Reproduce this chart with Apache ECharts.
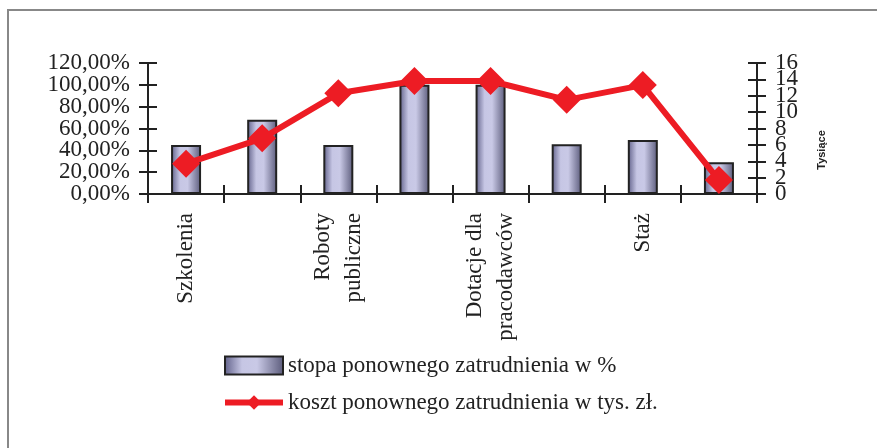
<!DOCTYPE html>
<html>
<head>
<meta charset="utf-8">
<script src="https://cdn.jsdelivr.net/npm/echarts@6/dist/echarts.min.js"></script>
<style>
  html, body { margin: 0; padding: 0; background: #fff; }
  #chart { width: 877px; height: 448px; }
</style>
</head>
<body>
<div id="chart"></div>
<script>
// labels shown under the axis (every other category is unlabelled in the source)
const categories = ["Szkolenia", "", "Roboty\npubliczne", "", "Dotacje dla\npracodawców", "", "Staż", ""];
const stopa = [45, 68, 45, 100, 100, 45.5, 49.5, 29];          // %
const koszt = [3.7, 6.8, 12.3, 13.8, 13.8, 11.5, 13.3, 1.7];    // tys. zł
const seriesNames = ["stopa ponownego zatrudnienia w %", "koszt ponownego zatrudnienia w tys. zł."];

const serif = "'Liberation Serif', 'DejaVu Serif', serif";
const ink = "#222";
const red = "#ed1c24";

const barFill = new echarts.graphic.LinearGradient(0, 0, 1, 0, [
  { offset: 0, color: "#5f5f88" },
  { offset: 0.3, color: "#c6c6e4" },
  { offset: 0.55, color: "#c9c9e6" },
  { offset: 1, color: "#5a5a7a" }
]);

// tick labels overlap in the source; ECharts would drop some, so even and odd
// labels are put on two twin axes (one with outside ticks, one with inside ticks)
function yAxisPair(position, max, interval, fmt) {
  const lbl = (keepEven) => ({
    margin: 18, color: ink, fontFamily: serif, fontSize: 23,
    showMinLabel: true, showMaxLabel: true,
    formatter: v => ((Math.round(v / interval) % 2 === 0) === keepEven ? fmt(v) : "")
  });
  return [
    {
      type: "value", position: position, min: 0, max: max, interval: interval,
      axisLine: { show: true, lineStyle: { color: ink, width: 2 } },
      axisTick: { show: true, length: 9, lineStyle: { color: ink, width: 2 } },
      axisLabel: lbl(true),
      splitLine: { show: false }
    },
    {
      type: "value", position: position, min: 0, max: max, interval: interval,
      axisLine: { show: false },
      axisTick: { show: true, inside: true, length: 9, lineStyle: { color: ink, width: 2 } },
      axisLabel: Object.assign(lbl(false), { inside: false }),
      splitLine: { show: false }
    }
  ];
}

let option = {
  animation: false,
  backgroundColor: "#fff",
  grid: { left: 148, right: 120, top: 63, bottom: 254, containLabel: false },
  xAxis: [
    {
      type: "category", data: categories, position: "bottom",
      axisLine: { show: true, lineStyle: { color: ink, width: 2 } },
      axisTick: { show: true, length: 9, interval: 0, lineStyle: { color: ink, width: 2 } },
      axisLabel: {
        interval: 0, rotate: 90, margin: 19, color: ink,
        fontFamily: serif, fontSize: 23, lineHeight: 31
      }
    },
    {
      type: "category", data: categories, position: "bottom",
      axisLine: { show: false },
      axisTick: { show: true, inside: true, length: 9, interval: 0, lineStyle: { color: ink, width: 2 } },
      axisLabel: { show: false }
    }
  ],
  yAxis: [].concat(
    yAxisPair("left", 120, 20, v => v + ",00%"),
    yAxisPair("right", 16, 2, v => String(v))
  ),
  legend: {
    orient: "vertical", left: 222, top: 354, padding: 0,
    itemWidth: 58, itemHeight: 18, itemGap: 14,
    textStyle: { color: ink, fontFamily: serif, fontSize: 23 },
    data: [
      { name: seriesNames[0], icon: "rect", itemStyle: { color: barFill, borderColor: ink, borderWidth: 2 } },
      { name: seriesNames[1], lineStyle: { color: red, width: 6 } }
    ]
  },
  graphic: [
    {
      type: "polyline", silent: true,
      shape: { points: [[8, 448], [8, 10], [877, 10]] },
      style: { stroke: "#888", lineWidth: 2, fill: null }
    },
    {
      type: "text", x: 822, y: 150, rotation: Math.PI / 2,
      style: {
        text: "Tysiące", fill: ink, align: "center", verticalAlign: "middle",
        font: "bold 11px 'Liberation Sans', Arial, sans-serif"
      }
    }
  ],
  series: [
    {
      name: seriesNames[0], type: "bar", yAxisIndex: 0, barWidth: 30,
      itemStyle: { color: barFill, borderColor: ink, borderWidth: 2 },
      data: stopa
    },
    {
      name: seriesNames[1], type: "line", yAxisIndex: 2, z: 5,
      symbol: "diamond", symbolSize: [28, 28],
      lineStyle: { color: red, width: 6 },
      itemStyle: { color: red },
      data: koszt
    }
  ]
};

let chart = echarts.init(document.getElementById("chart"));
chart.setOption(option);
</script>
</body>
</html>
